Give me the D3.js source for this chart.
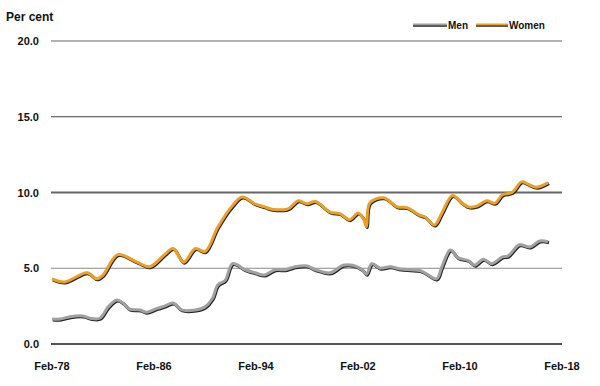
<!DOCTYPE html>
<html lang="en">
  <head>
    <meta charset="UTF-8" />
    <title>Per cent - Men and Women</title>
    <script src="https://d3js.org/d3.v7.min.js"></script>
    <style>
      body {
        margin: 0;
        background-color: #fff;
        font-family: "Liberation Sans", Arial, sans-serif;
      }
      .tick-label {
        font-size: 11px;
        font-weight: bold;
        fill: #111;
      }
      .legend-label {
        font-size: 10px;
        font-weight: bold;
        fill: #111;
      }
    </style>
  </head>
  <body>
    <svg id="chart"></svg>
    <script>
      // y ticks and x tick labels
      const yTicks = [0, 5, 10, 15, 20];
      const xTickDates = ["1978-02", "1986-02", "1994-02", "2002-02", "2010-02", "2018-02"];

      // Men series
      const menDates = [
        "1978-02", "1978-10", "1979-07", "1980-07", "1981-02", "1981-11", "1982-07",
        "1983-03", "1983-09", "1984-03", "1985-01", "1985-07", "1986-05", "1986-12",
        "1987-08", "1988-04", "1989-05", "1990-02", "1990-09", "1991-02", "1991-09",
        "1992-04", "1993-04", "1994-01", "1994-10", "1995-08", "1996-05", "1996-10",
        "1997-03", "1998-02", "1998-10", "1999-12", "2000-12", "2001-09", "2002-06",
        "2002-10", "2003-03", "2003-11", "2004-08", "2005-06", "2006-03", "2006-12",
        "2007-05", "2008-04", "2008-09", "2009-05", "2009-12", "2010-10", "2011-04",
        "2011-12", "2012-08", "2013-06", "2013-11", "2014-10", "2015-08", "2016-05",
        "2017-01"
      ];
      const menValues = [
        1.65, 1.65, 1.8, 1.85, 1.7, 1.7, 2.45,
        2.9, 2.7, 2.3, 2.25, 2.1, 2.35, 2.5,
        2.7, 2.25, 2.25, 2.45, 3.0, 3.9, 4.2,
        5.3, 4.9, 4.7, 4.55, 4.9, 4.9, 5.0,
        5.1, 5.15, 4.9, 4.7, 5.2, 5.2, 4.9,
        4.6, 5.3, 5.0, 5.1, 4.95, 4.9, 4.85,
        4.7, 4.3, 5.1, 6.2, 5.7, 5.5, 5.2,
        5.6, 5.3, 5.75, 5.8, 6.55, 6.4, 6.8,
        6.75
      ];

      // Women series
      const womenDates = [
        "1978-02", "1979-02", "1980-11", "1981-08", "1982-02", "1983-04", "1984-10",
        "1985-10", "1986-12", "1987-08", "1988-06", "1989-05", "1990-02", "1991-02",
        "1992-03", "1993-01", "1994-01", "1994-10", "1995-05", "1996-07", "1996-10",
        "1997-06", "1998-02", "1998-10", "1999-12", "2000-09", "2001-06", "2002-02",
        "2002-07", "2002-10", "2003-01", "2004-02", "2005-03", "2005-12", "2006-12",
        "2007-05", "2008-02", "2008-09", "2009-07", "2010-04", "2010-10", "2011-06",
        "2012-03", "2012-11", "2013-06", "2014-03", "2014-12", "2015-06", "2016-02",
        "2017-01"
      ];
      const womenValues = [
        4.3, 4.1, 4.7, 4.3, 4.55, 5.9, 5.4,
        5.1, 5.9, 6.3, 5.4, 6.3, 6.1, 7.7,
        9.05, 9.7, 9.25, 9.05, 8.9, 8.9, 9.0,
        9.45, 9.25, 9.4, 8.7, 8.6, 8.2, 8.65,
        8.3, 7.75, 9.3, 9.65, 9.05, 9.0, 8.5,
        8.4, 7.85, 8.65, 9.8, 9.3, 9.05, 9.1,
        9.45, 9.3, 9.85, 10.0, 10.7, 10.55, 10.35,
        10.65
      ];

      const width = 600;
      const height = 386;
      const parse = d3.timeParse("%Y-%m");
      const fmt = d3.timeFormat("%b-%y");

      const men = menDates.map((d, i) => ({ date: parse(d), value: menValues[i] }));
      const women = womenDates.map((d, i) => ({ date: parse(d), value: womenValues[i] }));

      const x = d3
        .scaleTime()
        .domain([parse("1978-02"), parse("2018-02")])
        .range([52, 562]);

      const y = d3.scaleLinear().domain([0, 20]).range([344, 41]);

      const svg = d3.select("#chart").attr("width", width).attr("height", height);

      // gridlines
      const gridStyle = {
        0: { stroke: "#555", w: 2 },
        5: { stroke: "#8a8a8a", w: 1 },
        10: { stroke: "#666", w: 2 },
        15: { stroke: "#444", w: 1 },
        20: { stroke: "#999", w: 1.5 },
      };
      svg
        .append("g")
        .selectAll("line")
        .data(yTicks)
        .enter()
        .append("line")
        .attr("x1", 51)
        .attr("x2", 562)
        .attr("y1", (d) => y(d))
        .attr("y2", (d) => y(d))
        .attr("stroke", (d) => gridStyle[d].stroke)
        .attr("stroke-width", (d) => gridStyle[d].w);

      // y labels
      svg
        .append("g")
        .selectAll("text")
        .data(yTicks)
        .enter()
        .append("text")
        .attr("class", "tick-label")
        .attr("x", 39)
        .attr("y", (d) => y(d) + 4)
        .attr("text-anchor", "end")
        .text((d) => d3.format(".1f")(d));

      // x labels
      svg
        .append("g")
        .selectAll("text")
        .data(xTickDates.map(parse))
        .enter()
        .append("text")
        .attr("class", "tick-label")
        .attr("x", (d) => x(d))
        .attr("y", 370)
        .attr("text-anchor", "middle")
        .text((d) => fmt(d));

      svg
        .append("text")
        .attr("class", "tick-label")
        .attr("x", 6)
        .attr("y", 21)
        .style("font-size", "12px")
        .text("Per cent");

      const line = d3
        .line()
        .x((d) => x(d.date))
        .y((d) => y(d.value))
        .curve(d3.curveCatmullRom.alpha(0.5));

      const series = [
        { name: "Men", data: men, color: "#a0a0a0" },
        { name: "Women", data: women, color: "#eba024" },
      ];

      series.forEach((s) => {
        // dark shadow
        svg
          .append("path")
          .datum(s.data)
          .attr("fill", "none")
          .attr("stroke", "#222")
          .attr("stroke-width", 3)
          .attr("stroke-linejoin", "round")
          .attr("transform", "translate(0.8,1)")
          .attr("d", line);
        svg
          .append("path")
          .datum(s.data)
          .attr("fill", "none")
          .attr("stroke", s.color)
          .attr("stroke-width", 3)
          .attr("stroke-linejoin", "round")
          .attr("d", line);
      });

      // legend
      const legend = svg.append("g");
      const legendItems = [
        { name: "Men", color: "#a0a0a0", x1: 413, x2: 447, tx: 448 },
        { name: "Women", color: "#eba024", x1: 476, x2: 508, tx: 509 },
      ];
      legendItems.forEach((l) => {
        legend
          .append("line")
          .attr("x1", l.x1)
          .attr("x2", l.x2)
          .attr("y1", 25.5)
          .attr("y2", 25.5)
          .attr("stroke", "#222")
          .attr("stroke-width", 2.5);
        legend
          .append("line")
          .attr("x1", l.x1)
          .attr("x2", l.x2)
          .attr("y1", 24.5)
          .attr("y2", 24.5)
          .attr("stroke", l.color)
          .attr("stroke-width", 2);
        legend
          .append("text")
          .attr("class", "legend-label")
          .attr("x", l.tx)
          .attr("y", 29)
          .text(l.name);
      });
    </script>
  </body>
</html>
